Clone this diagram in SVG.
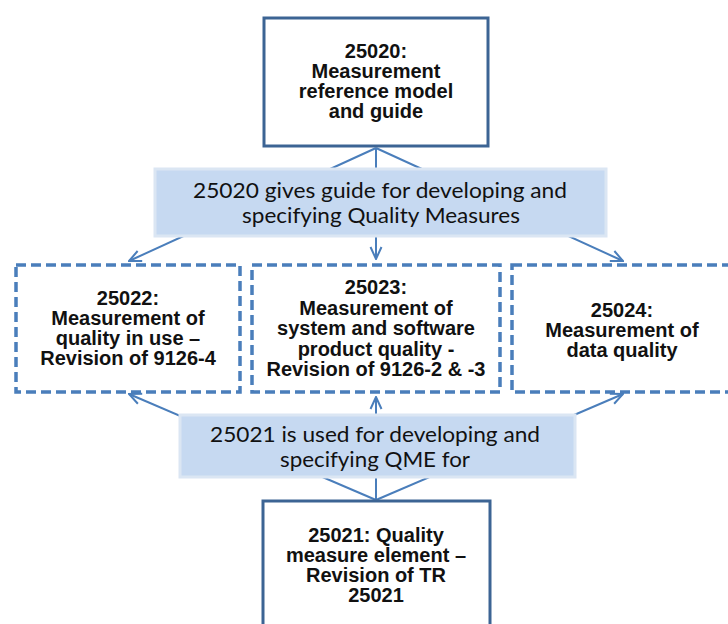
<svg xmlns="http://www.w3.org/2000/svg" width="728" height="624" viewBox="0 0 728 624">
  <defs>
    <marker id="arr" viewBox="0 0 14 14" refX="13" refY="7" markerWidth="14" markerHeight="14" markerUnits="userSpaceOnUse" orient="auto">
      <path d="M1,1.5 L13,7 L1,12.5" fill="none" stroke="#4a7ebb" stroke-width="2"/>
    </marker>
    <style>
      .solid{fill:#fff;stroke:#3c6494;stroke-width:3}
      .dash{fill:#fff;stroke:#4a7ebb;stroke-width:3.5;stroke-dasharray:10 5}
      .lbl{fill:#c6d9f1;stroke:#dbe6f3;stroke-width:3}
      .conn line{stroke:#4a7ebb;stroke-width:2;marker-end:url(#arr)}
      .bt{font-family:"Liberation Sans",Arial,sans-serif;font-weight:bold;font-size:20px;fill:#111;text-anchor:middle}
      .lt{font-family:Lato,"Open Sans",sans-serif;font-size:21px;fill:#111;text-anchor:middle}
    </style>
  </defs>
  <rect width="728" height="624" fill="#fff"/>

  <g id="connectors" class="conn">
    <line x1="376" y1="148" x2="129" y2="261"/>
    <line x1="376" y1="148" x2="376" y2="259"/>
    <line x1="376" y1="148" x2="623" y2="261"/>
    <line x1="376" y1="500" x2="129" y2="394"/>
    <line x1="376" y1="500" x2="376" y2="397"/>
    <line x1="376" y1="500" x2="623" y2="394"/>
  </g>

  <g id="n25020">
    <rect class="solid" x="264" y="18" width="224" height="128"/>
    <text class="bt" x="376" y="58">25020:</text>
    <text class="bt" x="376" y="78">Measurement</text>
    <text class="bt" x="376" y="98">reference  model</text>
    <text class="bt" x="376" y="118">and guide</text>
  </g>

  <g id="label-guide">
    <rect class="lbl" x="155" y="169" width="451" height="67"/>
    <text class="lt" x="380" y="198" textLength="374" lengthAdjust="spacingAndGlyphs">25020  gives guide for developing and</text>
    <text class="lt" x="381" y="223" textLength="278" lengthAdjust="spacingAndGlyphs">specifying  Quality Measures</text>
  </g>

  <g id="n25022">
    <rect class="dash" x="16" y="265" width="224" height="127"/>
    <text class="bt" x="128" y="305">25022:</text>
    <text class="bt" x="128" y="325">Measurement of</text>
    <text class="bt" x="128" y="345">quality in use –</text>
    <text class="bt" x="128" y="365">Revision of 9126-4</text>
  </g>

  <g id="n25023">
    <rect class="dash" x="252" y="265" width="248" height="127"/>
    <text class="bt" x="376" y="294">25023:</text>
    <text class="bt" x="376" y="314.5">Measurement of</text>
    <text class="bt" x="376" y="335">system and  software</text>
    <text class="bt" x="376" y="355.5">product quality  -</text>
    <text class="bt" x="376" y="376">Revision of 9126-2 &amp; -3</text>
  </g>

  <g id="n25024">
    <rect class="dash" x="512" y="265" width="228" height="127"/>
    <text class="bt" x="622" y="317">25024:</text>
    <text class="bt" x="622" y="337">Measurement of</text>
    <text class="bt" x="622" y="357">data quality</text>
  </g>

  <g id="label-qme">
    <rect class="lbl" x="180" y="415" width="395" height="62"/>
    <text class="lt" x="375" y="442" textLength="330" lengthAdjust="spacingAndGlyphs">25021  is  used for developing and</text>
    <text class="lt" x="375" y="467" textLength="190" lengthAdjust="spacingAndGlyphs">specifying QME for</text>
  </g>

  <g id="n25021">
    <rect class="solid" x="263" y="501" width="227" height="140"/>
    <text class="bt" x="376" y="542">25021: Quality</text>
    <text class="bt" x="376" y="562">measure element –</text>
    <text class="bt" x="376" y="582">Revision of TR</text>
    <text class="bt" x="376" y="602">25021</text>
  </g>
</svg>
